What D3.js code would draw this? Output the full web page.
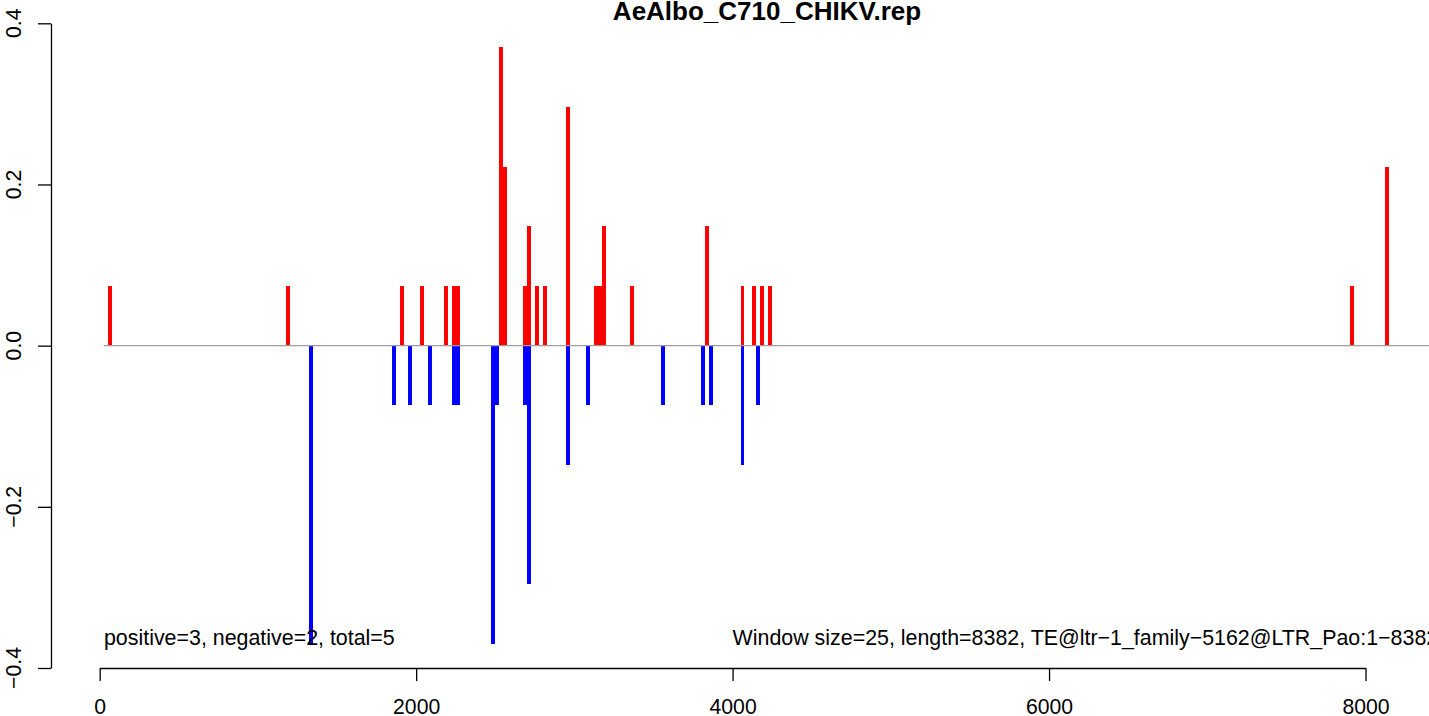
<!DOCTYPE html>
<html>
<head>
<meta charset="utf-8">
<script src="https://cdn.jsdelivr.net/npm/d3@7"></script>
<style>
  body { margin: 0; background: #fff; }
  svg { display: block; font-family: "Liberation Sans", Arial, Helvetica, sans-serif; }
</style>
</head>
<body>
<svg class="chart" width="1429" height="716"></svg>
<script>
// window starts (bp) and scores, window size 25
const posStarts = [50, 1175, 1900, 2025, 2175, 2225, 2250, 2525, 2550, 2675, 2700, 2750, 2800,
  2950, 3125, 3150, 3175, 3350, 3825, 4050, 4125, 4175, 4225, 7900, 8125]
const posValues = [0.074, 0.074, 0.074, 0.074, 0.074, 0.074, 0.074, 0.370, 0.222, 0.074, 0.148, 0.074, 0.074,
  0.296, 0.074, 0.074, 0.148, 0.074, 0.148, 0.074, 0.074, 0.074, 0.074, 0.074, 0.222]
const negStarts = [1325, 1850, 1950, 2075, 2225, 2250, 2475, 2500, 2675, 2700, 2950, 3075, 3550,
  3800, 3850, 4050, 4150]
const negValues = [-0.370, -0.074, -0.074, -0.074, -0.074, -0.074, -0.370, -0.074, -0.074, -0.296, -0.148, -0.074, -0.074,
  -0.074, -0.074, -0.148, -0.074]
const windowSize = 25
const xTicks = [0, 2000, 4000, 6000, 8000]
const yTicks = [-0.4, -0.2, 0, 0.2, 0.4]
const title = 'AeAlbo_C710_CHIKV.rep'
const leftNote = 'positive=3, negative=2, total=5'
const rightNote = 'Window size=25, length=8382, TE@ltr\u22121_family\u22125162@LTR_Pao:1\u22128382'

const svg = d3.select('svg.chart')
const x = d3.scaleLinear().domain([0, 8000]).range([99.7, 1365.5])
const y = d3.scaleLinear().domain([-0.4, 0.4]).range([668, 23.3])

const bars = (starts, values, color) => starts.map((s, i) => ({ s, v: values[i], color }))
const data = bars(posStarts, posValues, '#ff0000').concat(bars(negStarts, negValues, '#0000ff'))

svg.append('g').selectAll('rect')
  .data(data)
  .join('rect')
  .attr('shape-rendering', 'crispEdges')
  .attr('x', d => x(d.s))
  .attr('width', d => x(d.s + windowSize) - x(d.s))
  .attr('y', d => Math.min(y(d.v), y(0)))
  .attr('height', d => Math.abs(y(d.v) - y(0)))
  .attr('fill', d => d.color)

// zero line
svg.append('line')
  .attr('x1', x(windowSize)).attr('x2', 1440)
  .attr('y1', y(0)).attr('y2', y(0))
  .attr('stroke', '#9e9e9e')
  .attr('stroke-width', 1.3)

// x axis
const xAxis = d3.axisBottom(x).tickValues(xTicks).tickFormat(d3.format('d'))
  .tickSizeInner(13).tickSizeOuter(0).tickPadding(18)
const gx = svg.append('g').attr('transform', `translate(0,${y(-0.4)})`).call(xAxis)
gx.selectAll('path, line').attr('stroke', '#000').attr('stroke-width', 1.3)
gx.selectAll('text').attr('font-size', 21.2).attr('fill', '#000').attr('font-family', null)

// y axis (labels rotated like R)
const yAxis = d3.axisLeft(y).tickValues(yTicks).tickSizeInner(13).tickSizeOuter(0).tickFormat('')
const gy = svg.append('g').attr('transform', 'translate(51,0)').call(yAxis)
gy.selectAll('path, line').attr('stroke', '#000').attr('stroke-width', 1.3)
gy.selectAll('text').remove()
svg.append('g').selectAll('text')
  .data(yTicks)
  .join('text')
  .attr('transform', d => `translate(21,${y(d)}) rotate(-90)`)
  .attr('text-anchor', 'middle')
  .attr('font-size', 21.2)
  .text(d => d3.format('.1f')(d))

svg.append('text')
  .attr('x', 767).attr('y', 20)
  .attr('text-anchor', 'middle')
  .attr('font-size', 26)
  .attr('font-weight', 'bold')
  .text(title)

svg.append('text')
  .attr('x', x(27)).attr('y', 645)
  .attr('font-size', 21.4)
  .text(leftNote)

svg.append('text')
  .attr('x', x(4000)).attr('y', 645)
  .attr('font-size', 21.4)
  .text(rightNote)
</script>
</body>
</html>
